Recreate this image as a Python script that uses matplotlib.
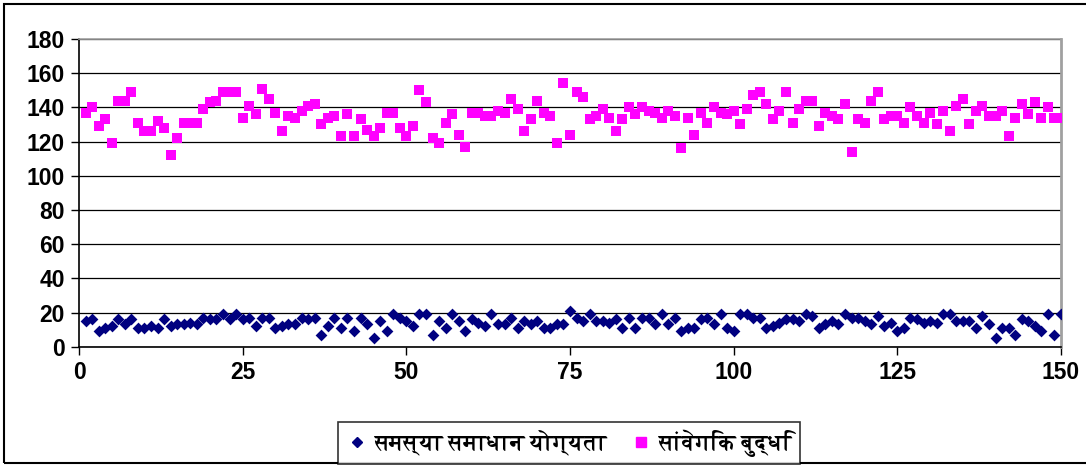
import matplotlib
matplotlib.use("Agg")
import matplotlib.pyplot as plt
from matplotlib import font_manager
from matplotlib.ft2font import FT2Font
from matplotlib.patches import Rectangle
from matplotlib.lines import Line2D

x_values = list(range(1, 151))
problem_solving = [15, 16, 9, 11, 12, 16, 13, 16, 11, 11, 12, 11, 16, 12, 13, 13, 14, 13, 17, 16,
                   16, 19, 16, 19, 16, 17, 12, 17, 17, 11, 12, 13, 13, 17, 16, 17, 7, 12, 17, 11,
                   17, 9, 17, 13, 5, 15, 9, 19, 17, 15, 12, 19, 19, 7, 15, 11, 19, 15, 9, 16,
                   14, 12, 19, 13, 13, 17, 11, 15, 13, 15, 11, 11, 13, 13, 21, 17, 15, 19, 15, 15,
                   14, 16, 11, 17, 11, 17, 17, 13, 19, 13, 17, 9, 11, 11, 16, 17, 13, 19, 11, 9,
                   19, 19, 17, 17, 11, 12, 14, 16, 16, 15, 19, 18, 11, 13, 15, 13, 19, 17, 17, 15,
                   13, 18, 12, 14, 9, 11, 17, 16, 14, 15, 14, 19, 19, 15, 15, 15, 11, 18, 13, 5,
                   11, 11, 7, 16, 15, 12, 9, 19, 7, 19]
emotional_intel = [137, 140, 129, 133, 119, 144, 144, 149, 131, 126, 126, 132, 128, 112, 122, 131, 131, 131, 139, 143,
                   144, 149, 149, 149, 134, 141, 136, 151, 145, 137, 126, 135, 134, 138, 141, 142, 130, 134, 135, 123,
                   136, 123, 133, 127, 123, 128, 137, 137, 128, 123, 129, 150, 143, 122, 119, 131, 136, 124, 117, 137,
                   137, 135, 135, 138, 137, 145, 139, 126, 133, 144, 137, 135, 119, 154, 124, 149, 146, 133, 135, 139,
                   134, 126, 133, 140, 136, 140, 138, 137, 134, 138, 135, 116, 134, 124, 137, 131, 140, 137, 136, 138,
                   130, 139, 147, 149, 142, 133, 138, 149, 131, 139, 144, 144, 129, 137, 135, 133, 142, 114, 133, 131,
                   144, 149, 133, 135, 135, 131, 140, 135, 131, 137, 130, 138, 126, 141, 145, 130, 138, 141, 135, 135,
                   138, 123, 134, 142, 136, 143, 134, 140, 134, 134]
series_labels = ["समस्या समाधान योग्यता", "सांवेगिक बुद्धि"]
x_ticks = [0, 25, 50, 75, 100, 125, 150]
y_ticks = [0, 20, 40, 60, 80, 100, 120, 140, 160, 180]


def find_font(cp):
    best = None
    for f in font_manager.fontManager.ttflist:
        try:
            ft = FT2Font(f.fname)
            if cp in ft.get_charmap():
                w = f.weight if isinstance(f.weight, int) else 400
                score = -abs(w - 700)
                if best is None or score > best[0]:
                    best = (score, f.name)
        except Exception:
            pass
    return best[1] if best else None


deva = find_font(0x0938)
fam = [deva, "DejaVu Sans"] if deva else ["DejaVu Sans"]

plt.rcParams["font.family"] = ["Liberation Sans", "DejaVu Sans"]

W, H = 1086, 466
fig = plt.figure(figsize=(W / 100, H / 100), dpi=100)
ax = fig.add_axes([79 / W, 1 - 346.7 / H, (1061 - 79) / W, (346.7 - 39) / H])

ax.scatter(x_values, problem_solving, marker="D", s=36, color="#000080", linewidths=0, zorder=3)
ax.scatter(x_values, emotional_intel, marker="s", s=50, color="#FF00FF", linewidths=0, zorder=3)

ax.set_xlim(0, 150)
ax.set_ylim(0, 180)
ax.set_xticks(x_ticks)
ax.set_yticks(y_ticks)
ax.yaxis.grid(True, color="black", linewidth=0.9)
ax.set_axisbelow(True)
ax.tick_params(axis="both", labelsize=16.5, length=6, width=1, color="black", pad=4)
for lab in ax.get_xticklabels() + ax.get_yticklabels():
    lab.set_fontweight("bold")
ax.spines["left"].set_color("black")
ax.spines["bottom"].set_color("black")
ax.spines["top"].set_color("#A0A0A0")
ax.spines["right"].set_color("#A0A0A0")
for s in ax.spines.values():
    s.set_linewidth(1.2)
ax.spines["right"].set_linewidth(2)

handles = [Line2D([], [], marker="D", linestyle="none", color="#000080", markersize=5.5),
           Line2D([], [], marker="s", linestyle="none", color="#FF00FF", markersize=6.5)]
leg = fig.legend(handles, series_labels, loc="center", bbox_to_anchor=(569 / W, 1 - 443 / H),
                 ncol=2, frameon=True, fancybox=False, edgecolor="black", handletextpad=0.3,
                 columnspacing=1.0, handlelength=1.0, borderpad=0.35,
                 prop=font_manager.FontProperties(family=fam, size=16, weight="bold"))
leg.get_frame().set_linewidth(1.2)

fig.patches.append(Rectangle((4 / W, 1 - 463 / H), 1.1, (463 - 4) / H, transform=fig.transFigure,
                             fill=False, edgecolor="black", linewidth=1.5))

fig.savefig("out.png", dpi=100)
